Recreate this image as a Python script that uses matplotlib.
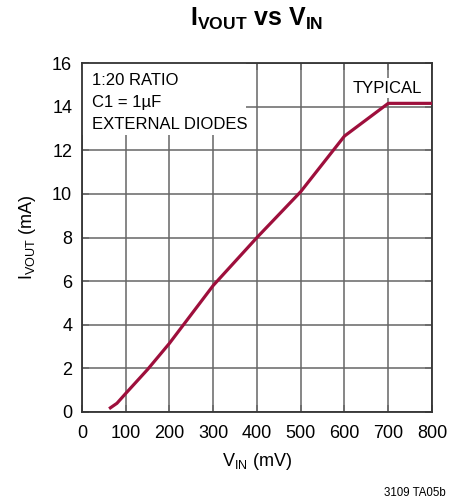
import matplotlib
matplotlib.use("Agg")
import matplotlib.pyplot as plt
from matplotlib.patches import Rectangle

plt.rcParams['font.family'] = ['Liberation Sans', 'DejaVu Sans']

# data
vin = [62, 80, 100, 150, 200, 300, 400, 500, 600, 700, 800]
ivout = [0.15, 0.4, 0.85, 1.95, 3.15, 5.8, 8.0, 10.1, 12.65, 14.15, 14.15]

x_ticks = [0, 100, 200, 300, 400, 500, 600, 700, 800]
y_ticks = [0, 2, 4, 6, 8, 10, 12, 14, 16]

fig = plt.figure(figsize=(4.63, 5.0), dpi=100)
ax = fig.add_axes([0.177, 0.176, 0.756, 0.698])

ax.plot(vin, ivout, color='#9e0f3c', lw=2.3, solid_capstyle='butt', zorder=3)

ax.set_xlim(0, 800)
ax.set_ylim(0, 16)
ax.set_xticks(x_ticks)
ax.set_yticks(y_ticks)
ax.grid(True, color='#666666', lw=1.1)
ax.set_axisbelow(True)
ax.tick_params(direction='in', length=5, width=1.1, color='#666666',
               labelsize=13, top=True, right=True)
ax.tick_params(axis='x', pad=9)
ax.tick_params(axis='y', pad=7)
for s in ax.spines.values():
    s.set_color('#333333')
    s.set_linewidth(1.3)

ax.set_xlabel(r'$\mathregular{V_{IN}}$ (mV)', fontsize=13, labelpad=7)
ax.set_ylabel(r'$\mathregular{I_{VOUT}}$ (mA)', fontsize=13, labelpad=10)

fig.text(0.555, 0.962, r'$\mathregular{I_{VOUT}}$ vs $\mathregular{V_{IN}}$',
         ha='center', va='center', fontsize=18, fontweight='bold')

# white panels behind the notes (hide the grid)
ax.add_patch(Rectangle((0, 0.794), 0.47, 0.206, transform=ax.transAxes,
                       facecolor='white', edgecolor='none', zorder=1.5))
ax.text(0.029, 0.97, '1:20 RATIO\nC1 = 1µF\nEXTERNAL DIODES',
        transform=ax.transAxes, ha='left', va='top', fontsize=12,
        linespacing=1.55, zorder=4)
ax.text(0.972, 0.928, 'TYPICAL', transform=ax.transAxes, ha='right',
        va='center', fontsize=12,
        bbox=dict(facecolor='white', edgecolor='none', pad=2), zorder=4)

fig.text(0.962, 0.014, '3109 TA05b', ha='right', va='center', fontsize=8.3)

fig.savefig('out.png', dpi=100)
